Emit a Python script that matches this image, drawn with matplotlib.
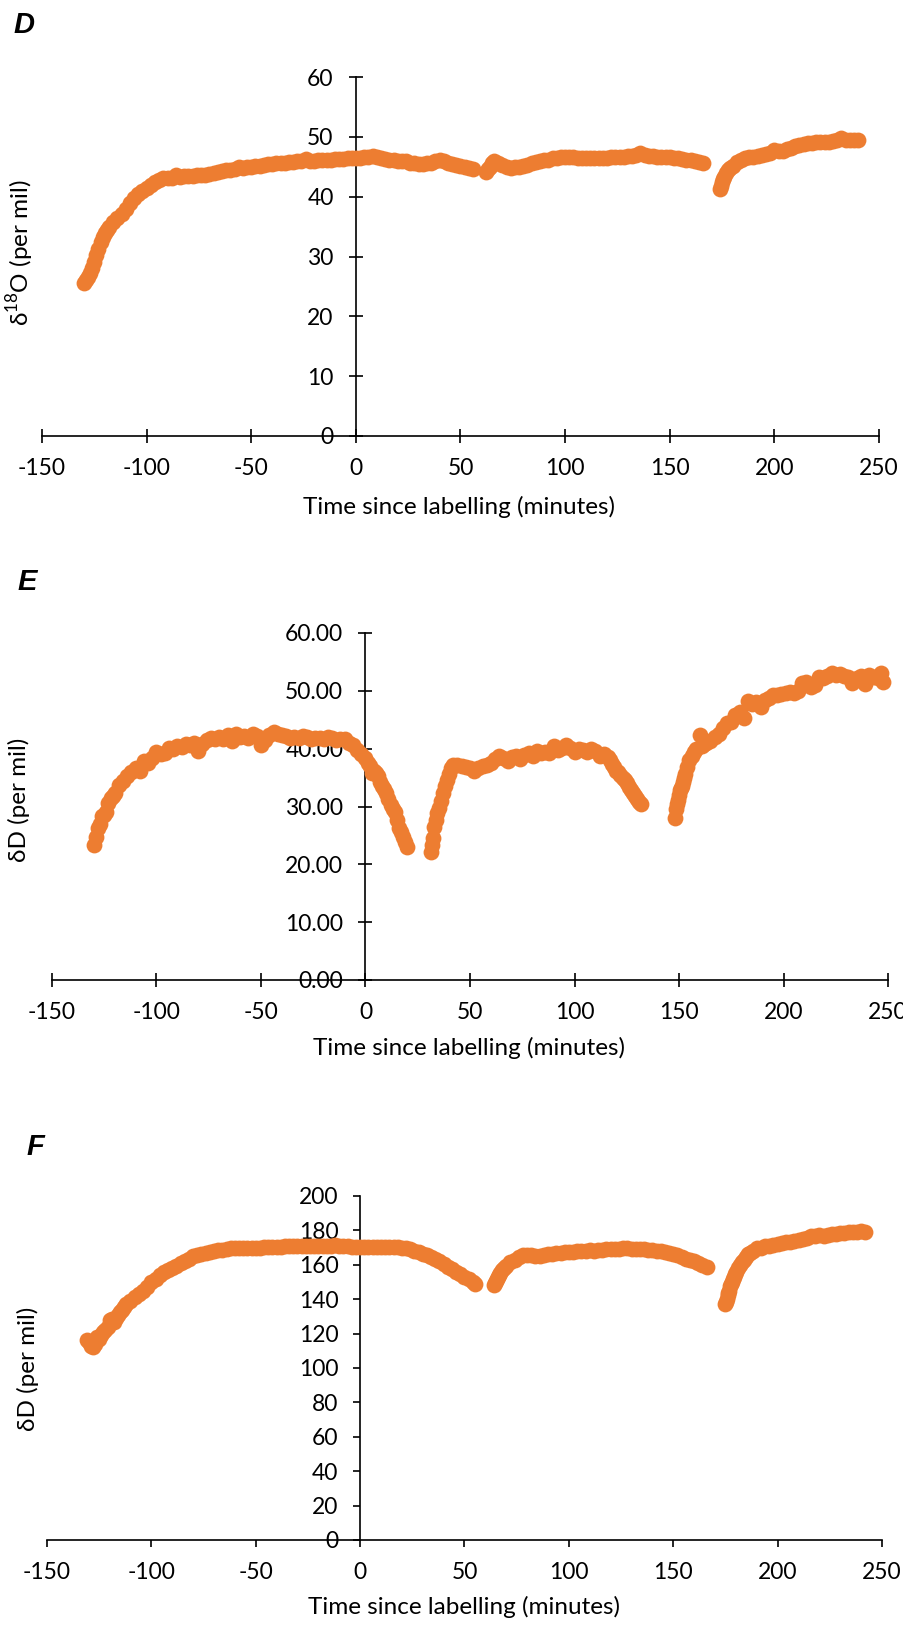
import matplotlib
matplotlib.use("Agg")
import matplotlib.pyplot as plt
from matplotlib.ticker import FormatStrFormatter

plt.rcParams['font.family'] = ['Lato', 'DejaVu Sans']
plt.rcParams['axes.unicode_minus'] = False

ORANGE = '#ED7D31'

# ---------------- D : delta 18O ----------------
d_time = [-130, -129, -128, -127, -126, -125, -124, -123, -122, -121, -120, -119, -118, -116,
          -114, -112, -110, -108, -106, -104,
          -102, -100, -98, -96, -94, -92, -90, -88, -86, -84, -82, -80, -78, -76, -74, -72,
          -70, -68, -66, -64, -62, -60, -58, -56, -54, -52, -50, -48, -46, -44, -42, -40,
          -38, -36, -34, -32, -30, -28, -26, -24, -22, -20, -18, -16, -14, -12, -10, -8,
          -6, -4, -2, 0, 2, 4, 6, 8, 10, 12, 14, 16, 18, 20, 22, 24, 26, 28, 30, 32, 34, 36,
          38, 40, 42, 44, 46, 48, 50, 52, 54, 56,
          62, 63, 64, 65, 66, 68, 70, 72, 74, 76, 78, 80, 82, 84, 86, 88, 90, 92, 94, 96, 98,
          100, 102, 104, 106, 108, 110, 112, 114, 116, 118, 120, 122, 124, 126, 128, 130, 132,
          134, 136, 138, 140, 142, 144, 146, 148, 150, 152, 154, 156, 158, 160, 162, 164, 166,
          174, 174.5, 175, 175.5, 176, 177, 178, 179, 180, 182, 184, 186, 188, 190, 192, 194,
          196, 198, 200, 202, 204, 206, 208, 210, 212, 214, 216, 218, 220, 222, 224, 226,
          228, 230, 232, 234, 236, 238, 240]
d_o18 = [25.6, 26.0, 26.6, 27.3, 28.0, 29.1, 30.2, 31.3, 32.4, 33.2, 33.9, 34.4, 34.9, 35.8,
         36.5, 37.1, 38.0, 38.9, 39.7, 40.4,
         41.0, 41.5, 42.0, 42.5, 42.8, 43.1, 43.2, 43.2, 43.7, 43.3, 43.4, 43.5, 43.5, 43.6,
         43.6, 43.7, 43.8, 44.0, 44.1, 44.3, 44.4, 44.5, 44.7, 45.0, 44.8, 44.9, 45.0, 45.1,
         45.2, 45.3, 45.4, 45.5, 45.6, 45.6, 45.7, 45.8, 45.8, 45.9, 45.9, 46.3, 46.0, 46.0,
         46.1, 46.1, 46.2, 46.2, 46.3, 46.3, 46.3, 46.4, 46.4, 46.5, 46.5, 46.6, 46.6, 46.8,
         46.6, 46.5, 46.3, 46.2, 46.1, 46.0, 46.0, 45.9, 45.7, 45.6, 45.5, 45.5, 45.6, 45.7,
         45.9, 46.2, 45.9, 45.6, 45.4, 45.3, 45.1, 44.9, 44.8, 44.6,
         44.2, 44.6, 45.0, 45.6, 46.0, 45.6, 45.3, 45.0, 44.8, 45.0, 45.0, 45.1, 45.3, 45.6,
         45.8, 46.0, 46.1, 46.2, 46.4, 46.5, 46.6, 46.6, 46.7, 46.6, 46.5, 46.4, 46.4, 46.5,
         46.4, 46.4, 46.5, 46.5, 46.6, 46.6, 46.6, 46.7, 46.8, 46.8, 46.9, 47.3, 46.9, 46.8,
         46.8, 46.7, 46.7, 46.6, 46.6, 46.5, 46.4, 46.3, 46.2, 46.1, 46.0, 45.8, 45.6,
         41.2, 41.8, 42.4, 42.9, 43.3, 43.9, 44.4, 44.8, 45.2, 45.8, 46.1, 46.4, 46.6, 46.7,
         46.8, 46.9, 47.1, 47.3, 47.8, 47.6, 47.7, 47.9, 48.2, 48.5, 48.7, 48.8, 48.9, 49.0,
         49.1, 49.1, 49.2, 49.2, 49.3, 49.4, 49.8, 49.4, 49.4, 49.5, 49.5]

# ---------------- E : delta D ----------------
e_time = [-130, -129, -128, -127, -126, -125, -124, -123, -122, -121, -120, -118, -116, -114,
          -112, -110, -108, -106, -104, -102, -100, -98, -96, -94, -92, -90, -88, -86, -84,
          -82, -80, -78, -76, -74, -72, -70, -68, -66, -64, -62, -60, -58, -56, -54, -52,
          -50, -48, -46, -44, -42, -40, -38, -36, -34, -32, -30, -28, -26, -24, -22, -20,
          -18, -16, -14, -12, -10, -8, -6, -4, -2, 0, 1, 2, 3, 4, 5, 6, 7, 8, 9, 10, 11, 12,
          13, 14, 15, 16, 17, 18, 19, 20,
          31.5, 32, 32.5, 33, 33.5, 34, 35, 36, 37, 38, 39, 40, 41, 42, 44, 46, 48, 50, 52,
          54, 56, 58, 60, 62, 64, 66, 68, 70, 72, 74, 76, 78, 80, 82, 84, 86, 88, 90, 92, 94,
          96, 98, 100, 102, 104, 106, 108, 110, 112, 114, 116, 117, 118, 119, 120, 121, 122,
          123, 124, 125, 126, 127, 128, 129, 130, 131, 132,
          148, 148.5, 149, 149.5, 150, 150.5, 151, 151.5, 152, 152.5, 153, 154, 155, 156,
          157, 158, 160, 161, 162, 163, 165, 167, 169, 171, 173, 175, 177, 179, 181, 183,
          185, 187, 189, 191, 193, 195, 197, 199, 201, 203, 205, 207, 209, 211, 213, 215,
          217, 219, 221, 223, 225, 227, 229, 231, 233, 235, 237, 239, 241, 243, 245, 246.5,
          247.5]
e_dd = [23.4, 24.8, 26.3, 27.0, 28.3, 28.5, 29.0, 30.6, 31.5, 31.9, 32.3, 33.8, 34.4, 35.2,
        35.9, 36.6, 36.2, 37.8, 37.6, 38.3, 39.4, 39.0, 39.2, 40.2, 40.0, 40.5, 40.3, 40.8,
        40.6, 41.0, 39.6, 40.8, 41.5, 41.8, 41.6, 42.0, 41.7, 42.3, 41.4, 42.5, 42.0, 42.2,
        41.8, 42.5, 42.2, 40.6, 41.5, 42.3, 42.9, 42.6, 42.4, 42.2, 41.9, 42.0, 41.8, 42.2,
        42.0, 41.7, 41.9, 41.8, 41.6, 42.0, 41.9, 41.5, 41.7, 41.6, 41.0, 40.6, 39.8, 39.0,
        38.3, 37.6, 37.0, 35.8, 36.2, 35.8, 35.2, 34.3, 33.5, 33.0, 32.4, 31.3, 30.2, 29.6,
        29.0, 27.6, 26.3, 25.6, 24.8, 23.9, 23.0,
        22.2, 23.4, 24.5, 26.5, 27.6, 28.8, 29.8, 31.0, 32.4, 33.5, 34.5, 35.6, 36.6, 37.2,
        37.1, 37.0, 36.9, 36.7, 36.2, 36.7, 37.0, 37.2, 37.6, 38.2, 38.7, 38.3, 37.9, 38.5,
        38.7, 38.2, 38.9, 39.3, 38.8, 39.6, 39.2, 39.5, 39.2, 40.4, 39.8, 40.1, 40.7, 40.2,
        39.4, 40.0, 39.8, 39.5, 40.0, 39.6, 38.8, 39.0, 38.6, 38.0, 37.4, 36.8, 36.2, 35.9,
        35.5, 35.0, 34.5, 34.0, 33.4, 32.8, 32.4, 31.8, 31.3, 30.8, 30.4,
        28.0, 29.5, 30.5, 31.2, 32.0, 32.8, 33.2, 33.6, 34.2, 35.0, 35.6, 36.8, 38.0, 38.8,
        39.4, 40.0, 42.3, 40.4, 40.8, 41.0, 41.4, 42.0, 42.5, 43.6, 44.4, 44.6, 45.8, 46.4,
        45.3, 48.2, 47.8, 48.0, 47.2, 48.4, 48.8, 49.2, 49.3, 49.4, 49.7, 49.8, 49.6, 50.0,
        51.4, 51.6, 50.6, 51.0, 52.4, 52.3, 52.6, 53.0, 52.8, 52.9, 52.5, 52.4, 51.4, 52.2,
        52.6, 51.2, 52.8, 52.4, 52.3, 53.0, 51.5]

# ---------------- F : delta D ----------------
f_time = [-131, -130, -129, -128, -127, -126, -125, -124, -123, -122, -121, -120, -119, -118,
          -117, -116, -115, -114, -113, -112, -110, -108, -106, -104, -102, -100, -98, -96,
          -94, -92, -90, -88, -86, -84, -82, -80, -78, -76, -74, -72, -70, -68, -66, -64,
          -62, -60, -58, -56, -54, -52, -50, -48, -46, -44, -42, -40, -38, -36, -34, -32,
          -30, -28, -26, -24, -22, -20, -18, -16, -14, -12, -10, -8, -6, -4, -2, 0, 2, 4, 6,
          8, 10, 12, 14, 16, 18, 20, 22, 24, 26, 28, 30, 32, 34, 36, 38, 40, 42, 44, 46, 48,
          50, 52, 54, 55,
          64, 64.5, 65, 65.5, 66, 66.5, 67, 68, 69, 70, 72, 74, 76, 78, 80, 82, 84, 86, 88,
          90, 92, 94, 96, 98, 100, 102, 104, 106, 108, 110, 112, 114, 116, 118, 120, 122,
          124, 126, 128, 130, 132, 134, 136, 138, 140, 142, 144, 146, 148, 150, 152, 154,
          156, 158, 160, 162, 164, 166,
          175, 175.3, 175.6, 176, 176.3, 176.6, 177, 177.5, 178, 178.5, 179, 179.5, 180,
          181, 182, 183, 184, 185, 186, 187, 188, 190, 192, 194, 196, 198, 200, 202, 204,
          206, 208, 210, 212, 214, 216, 218, 220, 222, 224, 226, 228, 230, 232, 234, 236,
          238, 240, 242]
f_dd = [116.5, 115, 113, 112, 114, 118, 117, 119, 121, 122, 124, 128, 128.5, 127, 129, 131,
        132.5, 134, 135.5, 137, 139, 141, 143, 145, 147, 150, 152, 154, 156, 157, 158,
        159.5, 161, 162, 163.5, 165, 165.5, 166, 167, 167.5, 168, 168.5, 168.5, 169, 169.5,
        169.5, 169.5, 170, 170, 170, 170, 170, 170.5, 170.5, 170.5, 170.5, 170.5, 171, 171,
        171, 171, 171, 171, 171, 171, 171, 171, 171, 171, 171.5, 171, 171, 171, 170.5, 170.5,
        170.5, 170.5, 170.5, 170.5, 170.5, 170.5, 170.5, 170.5, 170.5, 170.5, 170, 169.5,
        169, 168, 167.5, 166.5, 165.5, 164.5, 163.5, 162, 160.5, 159, 157.5, 156, 154.5,
        153, 151.5, 150, 149,
        148, 149.3, 150.5, 151.8, 153, 154, 155, 157, 158.3, 159.5, 161.5, 163, 164.5,
        165.5, 165.5, 165.5, 165, 165, 165.5, 166, 166.5, 167, 167, 167.5, 167.5, 167.5,
        168, 168, 168, 168.5, 168, 168.5, 168.5, 169, 169, 169, 169, 169.5, 169.5, 169, 169,
        169, 169, 168.5, 168.5, 168, 168, 167.5, 167, 166, 165.5, 164.5, 163.5, 163, 162,
        161, 160, 159,
        137, 138.5, 140, 142.5, 143.8, 145, 147.5, 148.8, 150, 151.5, 153, 154.5, 156, 158,
        160, 161.5, 163, 164.5, 166, 167, 168, 169.5, 170, 171, 171, 171.5, 172, 172.5, 173,
        173.5, 174, 174.5, 175, 175.5, 176.5, 177, 177.5, 176.8, 177.5, 178, 178, 178.5,
        178.5, 179, 179, 179, 179.5, 179.3]

W, H = 904, 1645
fig = plt.figure(figsize=(W / 100, H / 100), dpi=100)


def panel(x0, x1, y_top, y_zero, ymax, ystep, fmt, tickdir, ticklen, pad):
    # axes placed in pixel units, x spans -150..250
    ax = fig.add_axes([x0 / W, 1 - y_zero / H, (x1 - x0) / W, (y_zero - y_top) / H])
    ax.set_xlim(-150, 250)
    ax.set_ylim(0, ymax)
    ax.set_xticks(range(-150, 251, 50))
    ax.set_yticks([ystep * i for i in range(int(round(ymax / ystep)) + 1)])
    ax.yaxis.set_major_formatter(FormatStrFormatter(fmt))
    ax.spines['left'].set_position(('data', 0))
    ax.spines['right'].set_visible(False)
    ax.spines['top'].set_visible(False)
    for s in ('left', 'bottom'):
        ax.spines[s].set_linewidth(1.2)
    ax.tick_params(direction=tickdir, length=ticklen, width=1.2, pad=pad,
                   labelsize=16.5, colors='black')
    ax.patch.set_alpha(0)
    return ax


axD = panel(42, 879, 77, 436, 60, 10, '%d', 'inout', 10, 11)
axD.scatter(d_time, d_o18, s=130, color=ORANGE, linewidths=0, zorder=3, clip_on=False)

axE = panel(52, 888, 633, 980, 60, 10, '%.2f', 'inout', 10, 11)
axE.scatter(e_time, e_dd, s=130, color=ORANGE, linewidths=0, zorder=3, clip_on=False)

axF = panel(47, 882, 1196, 1540, 200, 20, '%d', 'out', 5, 10.5)
axF.scatter(f_time, f_dd, s=130, color=ORANGE, linewidths=0, zorder=3, clip_on=False)

# axis titles and panel letters, in pixel positions
def ftext(x, y, s, **kw):
    fig.text(x / W, 1 - y / H, s, **kw)

xlab = 'Time since labelling (minutes)'
ftext(459, 507, xlab, ha='center', va='center', fontsize=17.5)
ftext(469, 1048, xlab, ha='center', va='center', fontsize=17.5)
ftext(464, 1607, xlab, ha='center', va='center', fontsize=17.5)

ftext(20, 253, r'δ$^{\mathregular{18}}$O (per mil)', rotation=90, ha='center', va='center',
      fontsize=17.5)
ftext(19, 800, 'δD (per mil)', rotation=90, ha='center', va='center', fontsize=17.5)
ftext(28, 1369, 'δD (per mil)', rotation=90, ha='center', va='center', fontsize=17.5)

for lx, ly, letter in [(24, 25, 'D'), (27, 582, 'E'), (35, 1147, 'F')]:
    ftext(lx, ly, letter, ha='center', va='center', fontsize=21,
          fontweight='bold', fontstyle='italic', family='Liberation Sans')

fig.savefig('out.png', dpi=100)
